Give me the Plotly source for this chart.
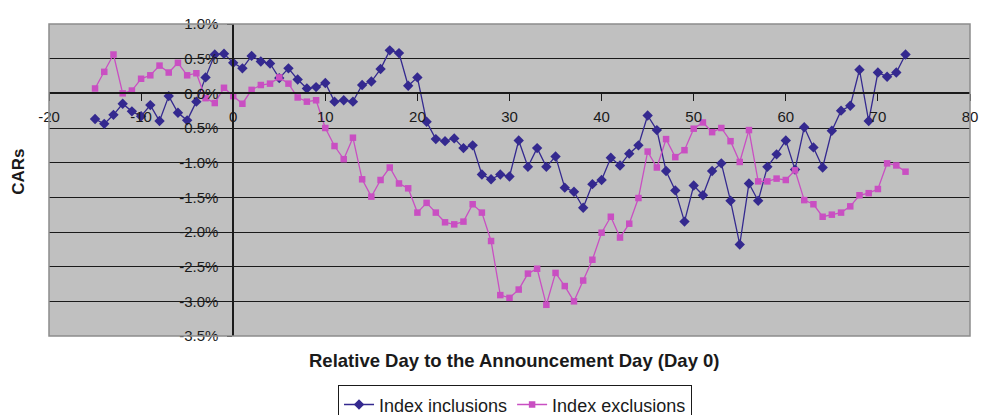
import plotly.graph_objects as go

# Relative event days
days = list(range(-15, 74))

# Cumulative abnormal returns (%), index inclusions
inclusions = [
    -0.37, -0.44, -0.31, -0.15, -0.26, -0.33, -0.17, -0.40, -0.04, -0.28,
    -0.39, -0.12, 0.23, 0.56, 0.57, 0.44, 0.36, 0.54, 0.46, 0.43,
    0.22, 0.36, 0.20, 0.07, 0.09, 0.15, -0.12, -0.10, -0.12, 0.12,
    0.17, 0.35, 0.62, 0.58, 0.11, 0.23, -0.41, -0.66, -0.69, -0.65,
    -0.79, -0.75, -1.17, -1.24, -1.17, -1.20, -0.68, -1.06, -0.79, -1.06,
    -0.91, -1.36, -1.42, -1.65, -1.31, -1.25, -0.93, -1.04, -0.87, -0.75,
    -0.32, -0.53, -1.12, -1.40, -1.85, -1.33, -1.47, -1.12, -1.01, -1.55,
    -2.18, -1.30, -1.55, -1.06, -0.88, -0.68, -1.10, -0.49, -0.78, -1.07,
    -0.54, -0.25, -0.18, 0.34, -0.40, 0.30, 0.24, 0.30, 0.56,
]

# Cumulative abnormal returns (%), index exclusions
exclusions = [
    0.07, 0.31, 0.56, 0.00, 0.04, 0.21, 0.26, 0.40, 0.30, 0.44,
    0.26, 0.29, -0.07, -0.14, 0.08, -0.04, -0.15, 0.05, 0.12, 0.14,
    0.23, 0.14, -0.06, -0.12, -0.10, -0.50, -0.76, -0.95, -0.64, -1.24,
    -1.49, -1.25, -1.07, -1.30, -1.37, -1.72, -1.58, -1.72, -1.86, -1.89,
    -1.85, -1.60, -1.72, -2.13, -2.91, -2.95, -2.83, -2.60, -2.53, -3.05,
    -2.59, -2.78, -3.00, -2.70, -2.40, -2.01, -1.78, -2.08, -1.88, -1.51,
    -0.84, -1.07, -0.66, -0.92, -0.82, -0.51, -0.42, -0.56, -0.50, -0.69,
    -0.99, -0.53, -1.27, -1.27, -1.23, -1.25, -1.11, -1.54, -1.60, -1.78,
    -1.75, -1.72, -1.63, -1.47, -1.44, -1.38, -1.01, -1.04, -1.13,
]

# Axis ticks
x_ticks = [-20, -10, 0, 10, 20, 30, 40, 50, 60, 70, 80]
x_tick_labels = ["-20", "-10", "0", "10", "20", "30", "40", "50", "60",
                 "70", "80"]
y_ticks = [1.0, 0.5, 0.0, -0.5, -1.0, -1.5, -2.0, -2.5, -3.0, -3.5]
y_tick_labels = ["1.0%", "0.5%", "0.0%", "-0.5%", "-1.0%", "-1.5%",
                 "-2.0%", "-2.5%", "-3.0%", "-3.5%"]

X_RANGE = [-20, 80]
Y_RANGE = [-3.5, 1.0]

FONT = "Liberation Sans, Arial, sans-serif"
INK = "#1a1a1a"
BLUE = "#34298f"
PINK = "#c94fc2"

fig = go.Figure()
fig.add_trace(go.Scatter(
    x=days, y=inclusions, mode="lines+markers", name="Index inclusions",
    line=dict(color=BLUE, width=1.3),
    marker=dict(symbol="diamond", size=8, color=BLUE),
))
fig.add_trace(go.Scatter(
    x=days, y=exclusions, mode="lines+markers", name="Index exclusions",
    line=dict(color=PINK, width=1.3),
    marker=dict(symbol="square", size=6.5, color=PINK),
))

# Axes cross at the origin
y_cross = (0 - Y_RANGE[0]) / (Y_RANGE[1] - Y_RANGE[0])
x_cross = (0 - X_RANGE[0]) / (X_RANGE[1] - X_RANGE[0])

fig.update_layout(
    width=981, height=415,
    margin=dict(l=49, r=11, t=24, b=79, autoexpand=False),
    paper_bgcolor="white",
    plot_bgcolor="#c0c0c0",
    font=dict(family=FONT, color=INK),
    showlegend=True,
    legend=dict(
        orientation="h", x=0.506, xanchor="center", y=-0.158, yanchor="top",
        bordercolor=INK, borderwidth=1, bgcolor="white",
        font=dict(size=18, family=FONT, color=INK),
        itemwidth=30, tracegroupgap=0,
    ),
    xaxis=dict(
        range=X_RANGE, tickvals=x_ticks, ticktext=x_tick_labels,
        anchor="free", position=y_cross,
        showgrid=False, zeroline=False, showline=True,
        linecolor=INK, linewidth=1.5,
        ticks="outside", ticklen=7, tickcolor=INK, tickwidth=1.2,
        ticklabelstandoff=3,
        tickfont=dict(size=15, family=FONT, color=INK),
        automargin=False,
    ),
    yaxis=dict(
        range=Y_RANGE, tickvals=y_ticks, ticktext=y_tick_labels,
        anchor="free", position=x_cross,
        showgrid=True, gridcolor=INK, gridwidth=1.4,
        zeroline=False, showline=True,
        linecolor=INK, linewidth=1.5,
        ticks="outside", ticklen=5, tickcolor=INK, tickwidth=1.2,
        ticklabelstandoff=6,
        tickfont=dict(size=15, family=FONT, color=INK),
        automargin=False,
    ),
    shapes=[dict(
        type="rect", xref="paper", yref="paper", x0=0, x1=1, y0=0, y1=1,
        line=dict(color="#8c8c8c", width=1.5), layer="above",
    )],
    annotations=[
        dict(text="<b>Relative Day to the Announcement Day (Day 0)</b>",
             xref="paper", yref="paper", x=0.505, y=-0.077,
             xanchor="center", yanchor="middle", showarrow=False,
             font=dict(size=18.5, family=FONT, color=INK)),
        dict(text="<b>CARs</b>", xref="paper", yref="paper",
             x=-0.0326, y=0.526, textangle=-90,
             xanchor="center", yanchor="middle", showarrow=False,
             font=dict(size=17, family=FONT, color=INK)),
    ],
)

fig.write_html("out.html")
